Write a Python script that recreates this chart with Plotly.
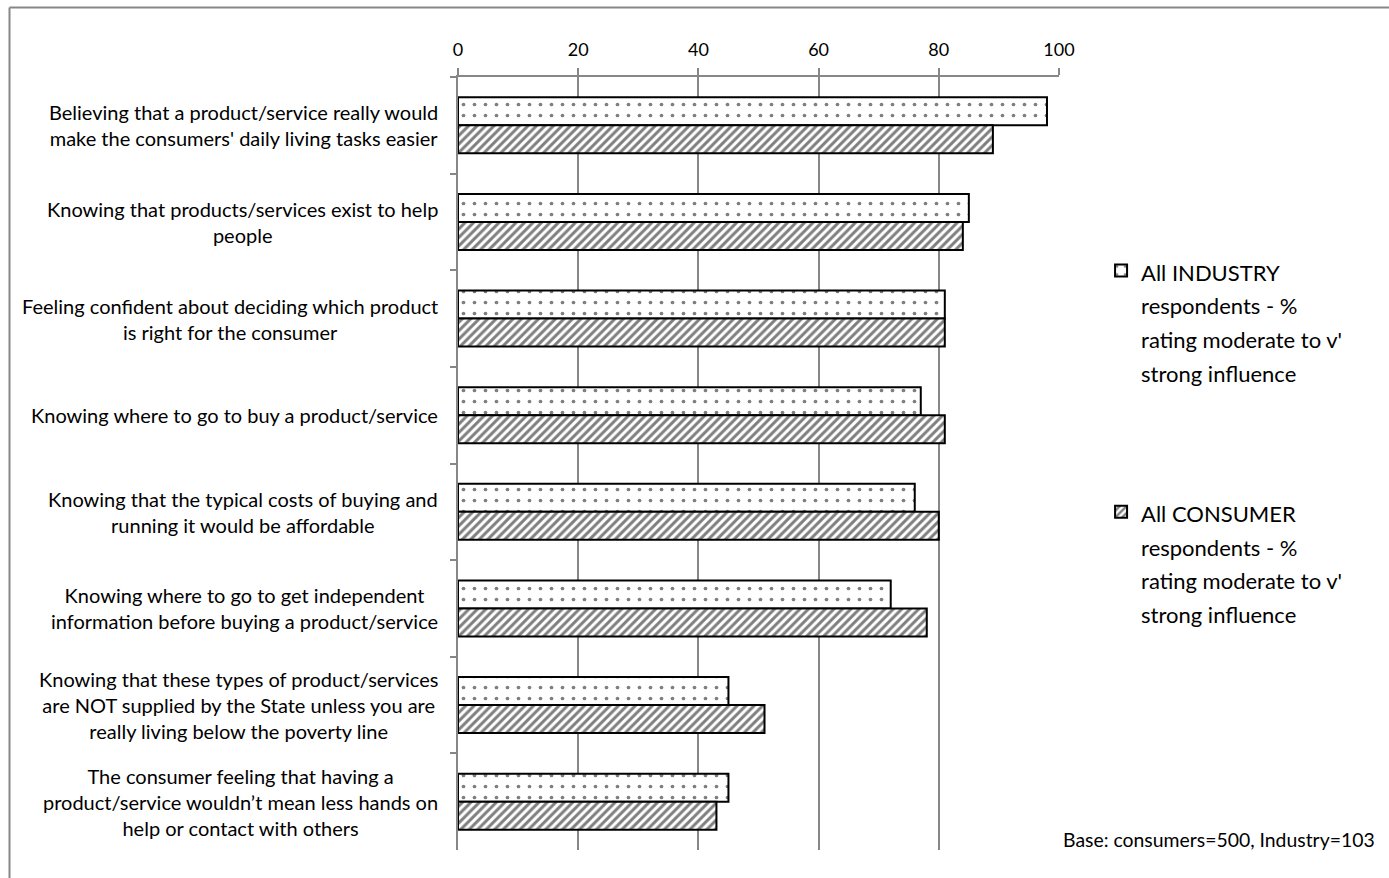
import plotly.graph_objects as go

categories = [
    "Believing that a product/service really would<br>make the consumers' daily living tasks easier",
    "Knowing that products/services exist to help<br>people",
    "Feeling confident about deciding which product<br>is right for the consumer",
    "Knowing where to go to buy a product/service",
    "Knowing that the typical costs of buying and<br>running it would be affordable",
    "Knowing where to go to get independent<br>information before buying a product/service",
    "Knowing that these types of product/services<br>are NOT supplied by the State unless you are<br>really living below the poverty line",
    "The consumer feeling that having a<br>product/service wouldn\u2019t mean less hands on<br>help or contact with others",
]
industry = [98, 85, 81, 77, 76, 72, 45, 45]
consumer = [89, 84, 81, 81, 80, 78, 51, 43]
series_names = [
    "All INDUSTRY<br>respondents - %<br>rating moderate to v'<br>strong influence",
    "All CONSUMER<br>respondents - %<br>rating moderate to v'<br>strong influence",
]
x_ticks = [0, 20, 40, 60, 80, 100]
note = "Base: consumers=500, Industry=103"

FONT = "Lato"
GRAY = "#878787"


def spanned(text, px):
    return "<br>".join(f"<span style='font-size:{px}px'>{ln}</span>" for ln in text.split("<br>"))


fig = go.Figure()
fig.add_trace(go.Bar(
    y=categories, x=industry, orientation="h", name=spanned(series_names[0], 22),
    legendgroup="ind",
    marker=dict(color="white", line=dict(color="black", width=2),
                pattern=dict(shape=".", fgcolor="black", bgcolor="white", size=11, solidity=0.09)),
))
fig.add_trace(go.Bar(
    y=categories, x=consumer, orientation="h", name=spanned(series_names[1], 22),
    legendgroup="con",
    marker=dict(color="white", line=dict(color="black", width=2),
                pattern=dict(shape="/", fgcolor="black", bgcolor="white", size=6, solidity=0.5)),
))

annotations = []
for c in categories:
    annotations.append(dict(
        x=0, xref="paper", y=c, yref="y", xanchor="right", yanchor="middle",
        xshift=-18, align="center", showarrow=False,
        text=spanned(c, 20), font=dict(family=FONT, size=20, color="black"),
    ))
annotations.append(dict(
    x=1, xref="paper", y=0, yref="paper", xanchor="left", yanchor="bottom",
    xshift=2, yshift=-3, showarrow=False, text=note,
    font=dict(family=FONT, size=19.4, color="black"),
))

shapes = [
    dict(type="line", xref="paper", yref="paper", x0=(9.5 - 458) / 601, x1=(9.5 - 458) / 601,
         y0=(850 - 7.5) / 773, y1=(850 - 880) / 773, line=dict(color=GRAY, width=2)),
    dict(type="line", xref="paper", yref="paper", x0=(9.5 - 458) / 601, x1=(1392 - 458) / 601,
         y0=(850 - 7.5) / 773, y1=(850 - 7.5) / 773, line=dict(color=GRAY, width=2)),
]

fig.update_layout(
    width=1389, height=878, autosize=False,
    margin=dict(l=458, r=330, t=77, b=28, pad=0),
    paper_bgcolor="white", plot_bgcolor="white",
    barmode="group", bargap=0.42, bargroupgap=0,
    font=dict(family=FONT, size=18, color="black"),
    showlegend=True,
    legend=dict(
        x=1.07, xanchor="left", y=0.78, yanchor="top",
        font=dict(family=FONT, size=26, color="black"),
        traceorder="grouped", tracegroupgap=103, valign="top",
        bgcolor="rgba(0,0,0,0)", borderwidth=0,
    ),
    xaxis=dict(
        side="top", range=[0, 100], tickvals=x_ticks, ticktext=[str(v) for v in x_ticks],
        showgrid=True, gridcolor=GRAY, gridwidth=1.5, zeroline=False,
        showline=True, linecolor=GRAY, linewidth=1.5,
        ticks="outside", ticklen=7, tickcolor=GRAY, tickwidth=1.5,
        ticklabelstandoff=5,
        tickfont=dict(family=FONT, size=18, color="black"),
    ),
    yaxis=dict(
        type="category", autorange="reversed", showticklabels=False,
        showgrid=False, zeroline=False, showline=True, linecolor=GRAY, linewidth=1.5,
        ticks="outside", ticklen=6, tickcolor=GRAY, tickwidth=1.5, tickson="boundaries",
    ),
    annotations=annotations, shapes=shapes,
)

fig.write_html("out.html")
